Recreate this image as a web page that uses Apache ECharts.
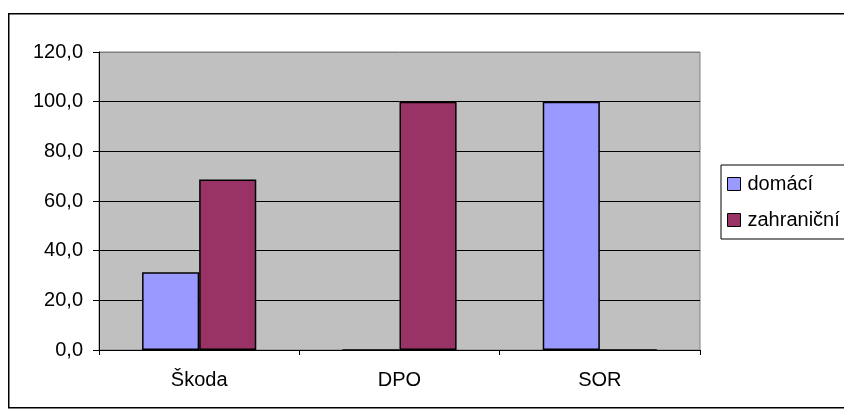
<!DOCTYPE html>
<html>
<head>
<meta charset="utf-8">
<script src="https://cdn.jsdelivr.net/npm/echarts@6/dist/echarts.min.js"></script>
<style>html,body{margin:0;padding:0;background:#fff}#c{width:844px;height:417px}</style>
</head>
<body>
<div id="c"></div>
<script>
const categories = ['Škoda', 'DPO', 'SOR'];
const seriesNames = ['domácí', 'zahraniční'];
const domaci = [31.3, 0, 100];
const zahranicni = [68.7, 100, 0];
const yTicks = [0, 20, 40, 60, 80, 100, 120];

const FONT = "'Liberation Sans', Arial, sans-serif";
const chart = echarts.init(document.getElementById('c'), null, {renderer: 'canvas'});
chart.setOption({
  animation: false,
  backgroundColor: '#ffffff',
  textStyle: {fontFamily: FONT},
  graphic: [{
    type: 'rect', left: 8, top: 13, z: -10, silent: true,
    shape: {width: 900, height: 394},
    style: {fill: '#ffffff', stroke: '#000000', lineWidth: 1.5}
  }],
  legend: {
    orient: 'vertical',
    left: 721, top: 165,
    padding: [9, 24, 9, 6],
    itemGap: 16,
    itemWidth: 13, itemHeight: 13,
    icon: 'rect',
    backgroundColor: '#ffffff',
    borderColor: '#000000', borderWidth: 1,
    textStyle: {fontSize: 20, color: '#000', fontFamily: FONT, padding: [0, 0, 0, 2]},
    itemStyle: {borderColor: '#000', borderWidth: 1},
    data: seriesNames
  },
  grid: {
    left: 99, top: 52, right: 144, bottom: 67,
    show: true, backgroundColor: '#C0C0C0', borderColor: '#808080', borderWidth: 1,
    containLabel: false
  },
  xAxis: {
    type: 'category',
    data: categories,
    axisLine: {lineStyle: {color: '#000', width: 1}},
    axisTick: {show: true, length: 5, lineStyle: {color: '#000'}, alignWithLabel: false},
    axisLabel: {fontSize: 20, color: '#000', margin: 20, fontFamily: FONT},
    splitLine: {show: false}
  },
  yAxis: {
    type: 'value',
    min: yTicks[0], max: yTicks[yTicks.length - 1], interval: 20,
    axisLine: {show: true, lineStyle: {color: '#000', width: 1}},
    axisTick: {show: true, length: 6, lineStyle: {color: '#000'}},
    axisLabel: {
      fontSize: 20, color: '#000', margin: 16, fontFamily: FONT,
      formatter: v => v.toFixed(1).replace('.', ',')
    },
    splitLine: {show: true, lineStyle: {color: ['#000', '#000', '#000', '#000', '#000', '#000', '#808080'], width: 1}}
  },
  series: [
    {
      name: seriesNames[0], type: 'bar', data: domaci,
      barGap: '0%', barCategoryGap: '43%',
      itemStyle: {color: '#9999FF', borderColor: '#000', borderWidth: 1.5}
    },
    {
      name: seriesNames[1], type: 'bar', data: zahranicni,
      barGap: '0%', barCategoryGap: '43%',
      itemStyle: {color: '#993366', borderColor: '#000', borderWidth: 1.5}
    }
  ]
});
</script>
</body>
</html>
